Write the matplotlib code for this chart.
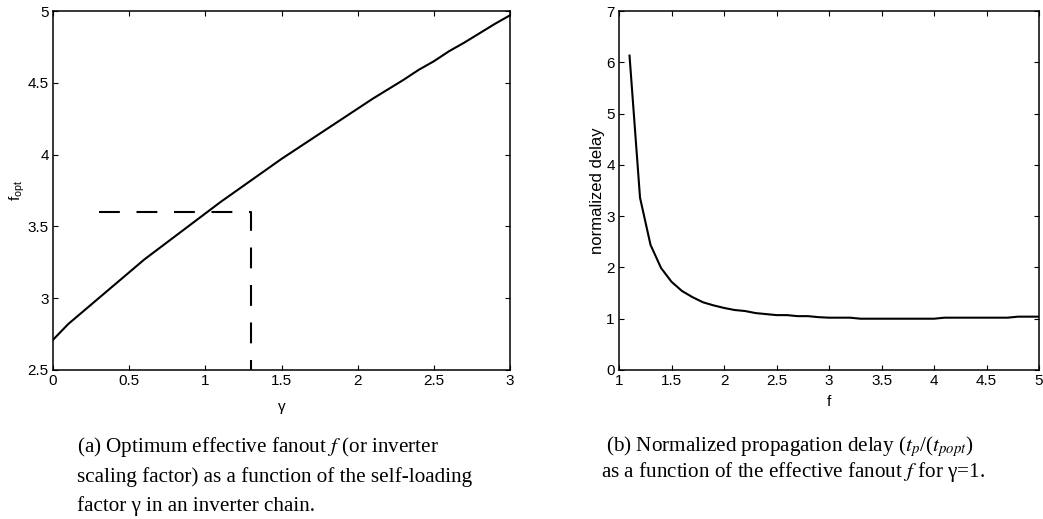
import numpy as np
import matplotlib
matplotlib.use('Agg')
import matplotlib.pyplot as plt

plt.rcParams['font.family'] = ['Liberation Sans', 'DejaVu Sans']
plt.rcParams['mathtext.fontset'] = 'custom'
plt.rcParams['mathtext.rm'] = 'Liberation Sans'
plt.rcParams['mathtext.it'] = 'Liberation Sans:italic'

# (a) optimum fanout versus self-loading factor gamma
gamma = [0.0, 0.1, 0.2, 0.3, 0.4, 0.5, 0.6, 0.7, 0.8, 0.9, 1.0,
         1.1, 1.2, 1.3, 1.4, 1.5, 1.6, 1.7, 1.8, 1.9, 2.0,
         2.1, 2.2, 2.3, 2.4, 2.5, 2.6, 2.7, 2.8, 2.9, 3.0]
f_opt = [2.71, 2.82, 2.91, 3.00, 3.09, 3.18, 3.27, 3.35, 3.43, 3.51, 3.59,
         3.67, 3.745, 3.82, 3.895, 3.97, 4.04, 4.11, 4.18, 4.25, 4.32,
         4.39, 4.455, 4.52, 4.59, 4.65, 4.72, 4.78, 4.845, 4.91, 4.97]
# marker lines at gamma = 1.3 / f = 3.6
guide_x = [0.3, 1.3, 1.3]
guide_y = [3.6, 3.6, 2.5]

# (b) normalized delay versus fanout f (gamma = 1)
fanout = [1.1, 1.2, 1.3, 1.4, 1.5, 1.6, 1.7, 1.8, 1.9, 2.0,
          2.1, 2.2, 2.3, 2.4, 2.5, 2.6, 2.7, 2.8, 2.9, 3.0,
          3.1, 3.2, 3.3, 3.4, 3.5, 3.6, 3.7, 3.8, 3.9, 4.0,
          4.1, 4.2, 4.3, 4.4, 4.5, 4.6, 4.7, 4.8, 4.9, 5.0]
delay = [6.13, 3.36, 2.44, 1.99, 1.72, 1.54, 1.42, 1.32, 1.26, 1.21,
         1.17, 1.15, 1.11, 1.09, 1.07, 1.07, 1.05, 1.05, 1.03, 1.02,
         1.02, 1.02, 1.00, 1.00, 1.00, 1.00, 1.00, 1.00, 1.00, 1.00,
         1.02, 1.02, 1.02, 1.02, 1.02, 1.02, 1.02, 1.04, 1.04, 1.04]

fig = plt.figure(figsize=(10.43, 5.19), dpi=100)
ax1 = fig.add_axes([0.0508, 0.2871, 0.4382, 0.6917])
ax2 = fig.add_axes([0.5935, 0.2871, 0.4027, 0.6917])

ax1.plot(gamma, f_opt, color='black', lw=1.5)
ax1.plot(guide_x, guide_y, color='black', lw=1.5, linestyle=(0, (10, 8)))
ax1.set_xlim(0, 3)
ax1.set_ylim(2.5, 5)
ax1.set_xticks(np.arange(0, 3.01, 0.5))
ax1.set_xticklabels(['0', '0.5', '1', '1.5', '2', '2.5', '3'])
ax1.set_yticks(np.arange(2.5, 5.01, 0.5))
ax1.set_yticklabels(['2.5', '3', '3.5', '4', '4.5', '5'])
ax1.set_xlabel('γ', fontsize=11)
ax1.set_ylabel(r'f$_{\mathrm{opt}}$', fontsize=11)
ax1.xaxis.set_label_coords(0.5, -0.103)
ax1.xaxis.label.set_va('center')
ax1.yaxis.set_label_coords(-0.077, 0.5)
ax1.yaxis.label.set_va('center')

ax2.plot(fanout, delay, color='black', lw=1.5)
ax2.set_xlim(1, 5)
ax2.set_ylim(0, 7)
ax2.set_xticks(np.arange(1, 5.01, 0.5))
ax2.set_xticklabels(['1', '1.5', '2', '2.5', '3', '3.5', '4', '4.5', '5'])
ax2.set_yticks(range(0, 8))
ax2.set_xlabel('f', fontsize=11)
ax2.set_ylabel('normalized delay', fontsize=12)
ax2.xaxis.set_label_coords(0.5, -0.089)
ax2.xaxis.label.set_va('center')
ax2.yaxis.set_label_coords(-0.052, 0.5)
ax2.yaxis.label.set_va('center')

for ax in (ax1, ax2):
    for s in ax.spines.values():
        s.set_linewidth(1.1)
    ax.tick_params(direction='in', length=3.6, width=0.8, labelsize=11,
                   top=True, right=True, pad=3)

cap = dict(family='Liberation Serif', fontsize=15.2, math_fontfamily='stix',
           va='baseline', ha='left')
fig.text(77 / 1043, 1 - 452 / 519, '(a) Optimum effective fanout $f$ (or inverter', **cap)
fig.text(77 / 1043, 1 - 482 / 519, 'scaling factor) as a function of the self-loading', **cap)
fig.text(77 / 1043, 1 - 511 / 519, 'factor γ in an inverter chain.', **cap)
fig.text(606 / 1043, 1 - 451 / 519,
         r'(b) Normalized propagation delay ($t_p$/($t_{popt}$)', **cap)
fig.text(601 / 1043, 1 - 477 / 519,
         'as a function of the effective fanout $f$ for γ=1.', **cap)

fig.savefig('out.png', dpi=100)
